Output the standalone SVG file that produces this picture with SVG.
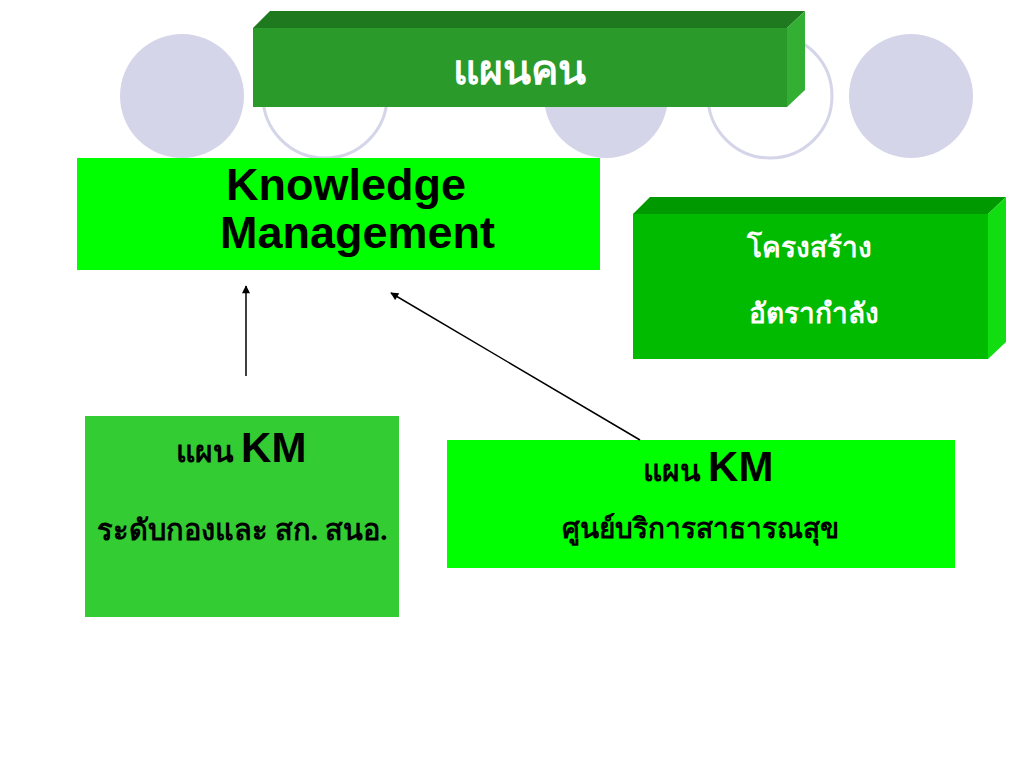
<svg xmlns="http://www.w3.org/2000/svg" width="1024" height="768" viewBox="0 0 1024 768">
<style>
.cf{fill:#d5d5ea}
.co{fill:#ffffff;stroke:#d5d5ea;stroke-width:3}
.th{font-family:"Liberation Serif","Noto Sans","DejaVu Sans",serif;font-weight:bold}
.en{font-family:"Liberation Sans",Arial,sans-serif;font-weight:bold}
.conn{stroke:#000;stroke-width:1.5;fill:none;marker-end:url(#ah)}
</style>
<defs>
<marker id="ah" viewBox="0 0 10 10" refX="9" refY="5" markerWidth="9" markerHeight="8" orient="auto" markerUnits="userSpaceOnUse">
<path d="M0,0 L10,5 L0,10 z" fill="#000"/>
</marker>
</defs>
<rect width="1024" height="768" fill="#fff"/>
<g id="circles">
<circle class="cf" cx="182" cy="96" r="62"/>
<circle class="co" cx="325" cy="96" r="62"/>
<circle class="cf" cx="606" cy="96" r="62"/>
<circle class="co" cx="770" cy="96" r="62"/>
<circle class="cf" cx="911" cy="96" r="62"/>
</g>
<g id="node-plan">
<polygon points="253,28 270,11 805,11 787,28" fill="#1f7a1f"/>
<polygon points="787,28 805,11 805,90 787,107" fill="#33b033"/>
<rect x="253" y="28" width="534" height="79" fill="#2a9a2a"/>
<text class="th" x="519" y="84" font-size="41" fill="#fff" text-anchor="middle">แผนคน</text>
</g>
<g id="node-km">
<rect x="77" y="158" width="523" height="112" fill="#00ff00"/>
<text class="en" x="226" y="200" font-size="45" fill="#000">Knowledge</text>
<text class="en" x="220" y="248" font-size="45" fill="#000">Management</text>
</g>
<g id="node-structure">
<polygon points="633,214 650,197 1006,197 988,214" fill="#009a00"/>
<polygon points="988,214 1006,197 1006,342 988,359" fill="#11dd11"/>
<rect x="633" y="214" width="355" height="145" fill="#00bb00"/>
<text class="th" x="809" y="257" font-size="28" fill="#fff" text-anchor="middle">โครงสร้าง</text>
<text class="th" x="814" y="323" font-size="28" fill="#fff" text-anchor="middle">อัตรากำลัง</text>
</g>
<g id="node-km-division">
<rect x="85" y="416" width="314" height="201" fill="#33cc33"/>
<text x="241" y="462" text-anchor="middle"><tspan class="th" font-size="30">แผน </tspan><tspan class="en" font-size="42">KM</tspan></text>
<text class="th" x="242" y="540" font-size="29" fill="#000" text-anchor="middle">ระดับกองและ สก. สนอ.</text>
</g>
<g id="node-km-center">
<rect x="447" y="440" width="508" height="128" fill="#00ff00"/>
<text x="708" y="481" text-anchor="middle"><tspan class="th" font-size="30">แผน </tspan><tspan class="en" font-size="42">KM</tspan></text>
<text class="th" x="700" y="538" font-size="28" fill="#000" text-anchor="middle">ศูนย์บริการสาธารณสุข</text>
</g>
<g id="connectors">
<line class="conn" x1="246" y1="376" x2="246" y2="286"/>
<line class="conn" x1="640" y1="440" x2="391" y2="293"/>
</g>
</svg>
